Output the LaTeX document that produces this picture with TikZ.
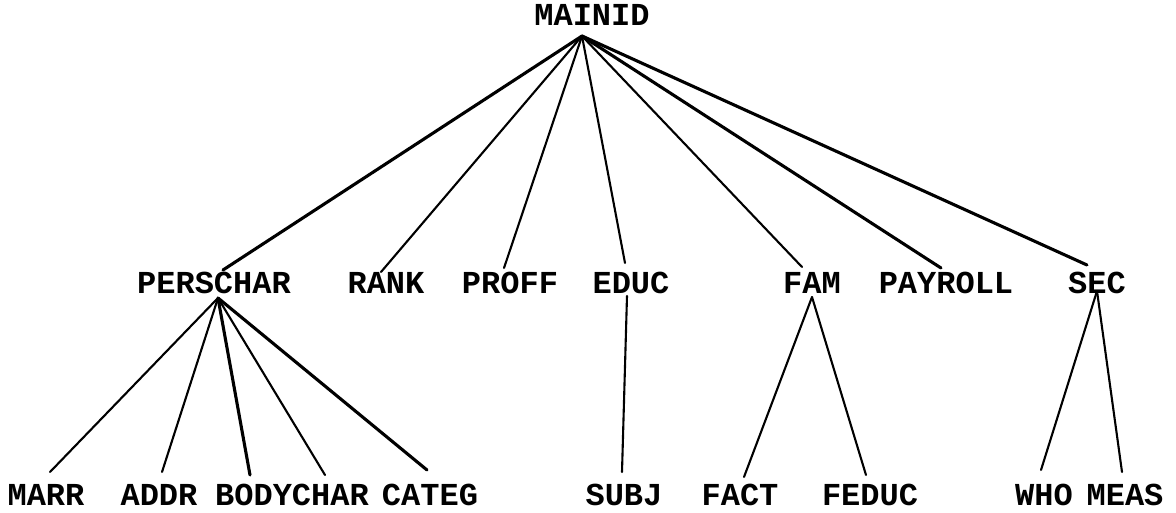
\documentclass[tikz,border=0pt]{standalone}
\usepackage{fontspec}
\newfontfamily\tw{Liberation Mono}
\begin{document}
\begin{tikzpicture}[x=1pt,y=-1pt,
  lbl/.style={inner sep=0pt,outer sep=0pt,anchor=base,font=\tw\bfseries\fontsize{32}{32}\selectfont},
  edge/.style={line width=2.1pt,line cap=round},
  thick edge/.style={line width=3.1pt,line cap=round}]
\useasboundingbox (0,0) rectangle (1176,512);
% labels
\node[lbl] (mainid) at (592,25) {MAINID};
\node[lbl] (perschar) at (214,293) {PERSCHAR};
\node[lbl] (rank) at (386,293) {RANK};
\node[lbl] (proff) at (510,293) {PROFF};
\node[lbl] (educ) at (631,293) {EDUC};
\node[lbl] (fam) at (812,293) {FAM};
\node[lbl] (payroll) at (946,293) {PAYROLL};
\node[lbl] (sec) at (1097,293) {SEC};
\node[lbl] (marr) at (46,505) {MARR};
\node[lbl] (addr) at (159,505) {ADDR};
\node[lbl] (bodychar) at (292,505) {BODYCHAR};
\node[lbl] (categ) at (430,505) {CATEG};
\node[lbl] (subj) at (624,505) {SUBJ};
\node[lbl] (fact) at (740,505) {FACT};
\node[lbl] (feduc) at (870,505) {FEDUC};
\node[lbl] (who) at (1044,505) {WHO};
\node[lbl] (meas) at (1125,505) {MEAS};
% connection points
\coordinate (apMain) at (582,36);
\coordinate (apPers) at (218,298);
\coordinate (apEduc) at (627,296);
\coordinate (apFam) at (812,297);
\coordinate (apSec) at (1097,291);
\coordinate (inPers) at (223,270);
\coordinate (inRank) at (381,272);
\coordinate (inProff) at (504,268);
\coordinate (inEduc) at (625,263);
\coordinate (inFam) at (802,267);
\coordinate (inPay) at (941,268);
\coordinate (inSec) at (1087,265);
\coordinate (inMarr) at (50,472);
\coordinate (inAddr) at (162,472);
\coordinate (inBodyA) at (250,475);
\coordinate (inBodyB) at (325,475);
\coordinate (inCateg) at (427,470);
\coordinate (inSubj) at (622,472);
\coordinate (inFact) at (744,477);
\coordinate (inFeduc) at (866,475);
\coordinate (inWho) at (1041,470);
\coordinate (inMeas) at (1122,472);
% edges from MAINID
\draw[thick edge] (apMain) -- (inPers);
\draw[edge] (apMain) -- (inRank);
\draw[edge] (apMain) -- (inProff);
\draw[edge] (apMain) -- (inEduc);
\draw[edge] (apMain) -- (inFam);
\draw[thick edge] (apMain) -- (inPay);
\draw[thick edge] (apMain) -- (inSec);
% edges from PERSCHAR
\draw[edge] (apPers) -- (inMarr);
\draw[edge] (apPers) -- (inAddr);
\draw[thick edge] (apPers) -- (inBodyA);
\draw[edge] (apPers) -- (inBodyB);
\draw[thick edge] (apPers) -- (inCateg);
% others
\draw[edge] (apEduc) -- (inSubj);
\draw[edge] (apFam) -- (inFact);
\draw[edge] (apFam) -- (inFeduc);
\draw[edge] (apSec) -- (inWho);
\draw[edge] (apSec) -- (inMeas);
\end{tikzpicture}
\end{document}
